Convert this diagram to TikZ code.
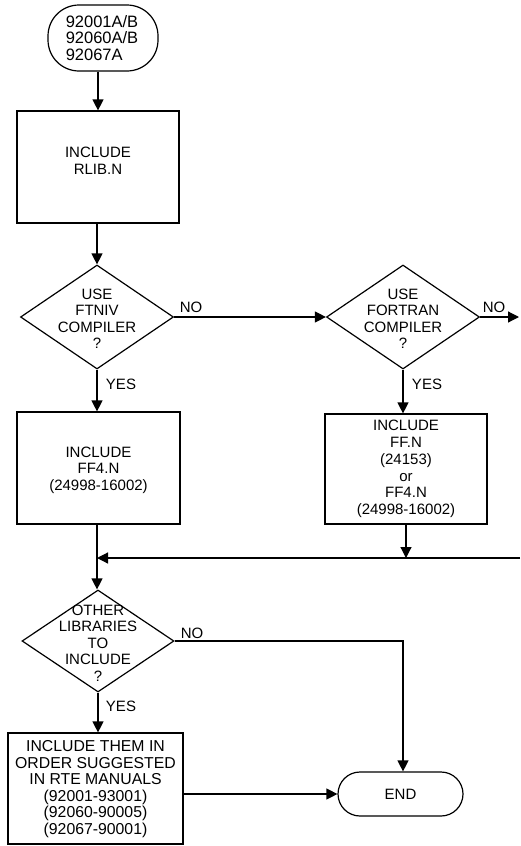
\documentclass[tikz,border=0pt]{standalone}
\usepackage{fontspec}
\setmainfont{Liberation Sans}
\usetikzlibrary{shapes.geometric,arrows.meta}
\begin{document}
\begin{tikzpicture}[x=1pt,y=-1pt,
  line width=1.2pt,
  every node/.style={font=\fontsize{15}{16.5}\selectfont},
  arr/.style={-{Triangle[length=11pt,width=11pt]}},
  boxn/.style={draw,rectangle,inner sep=0pt},
  dia/.style={draw,diamond,inner sep=0pt,minimum width=153pt,minimum height=104pt},
  txt/.style={align=center,inner sep=0pt},
  lbl/.style={inner sep=0pt}]
\useasboundingbox (0,0) rectangle (520,846);
% nodes
\node[draw,rectangle,rounded corners=31pt,minimum width=110pt,minimum height=66pt,inner sep=0pt] (start) at (103,38) {};
\node[align=left,inner sep=0pt,font=\fontsize{16.5}{16.7}\selectfont] (startt) at (102,38) {92001A/B\\92060A/B\\92067A};
\node[boxn,minimum width=162pt,minimum height=112pt] (b1) at (98,167) {};
\node[txt] (b1t) at (98,161) {INCLUDE\\RLIB.N};
\node[dia] (d1) at (97,317) {};
\node[txt] (d1t) at (97,319) {USE\\FTNIV\\COMPILER\\?};
\node[dia] (d2) at (403,317) {};
\node[txt] (d2t) at (403,319) {USE\\FORTRAN\\COMPILER\\?};
\node[boxn,minimum width=163pt,minimum height=112pt] (b2) at (98.5,468) {};
\node[txt] (b2t) at (98.5,470) {INCLUDE\\FF4.N\\(24998-16002)};
\node[boxn,minimum width=162pt,minimum height=110pt] (b3) at (406,469) {};
\node[txt,font=\fontsize{15}{16.8}\selectfont] (b3t) at (406,469) {INCLUDE\\FF.N\\(24153)\\or\\FF4.N\\(24998-16002)};
\node[dia,minimum width=152pt,minimum height=102pt] (d3) at (98,641) {};
\node[txt] (d3t) at (98,643) {OTHER\\LIBRARIES\\TO\\INCLUDE\\?};
\node[boxn,minimum width=175pt,minimum height=111pt] (b4) at (95.5,788.5) {};
\node[txt,font=\fontsize{15.8}{16.5}\selectfont] (b4t) at (95.5,789) {INCLUDE THEM IN\\ORDER SUGGESTED\\IN RTE MANUALS\\(92001-93001)\\(92060-90005)\\(92067-90001)};
\node[draw,rectangle,rounded corners=22pt,minimum width=125pt,minimum height=44pt,inner sep=0pt] (end) at (400.5,794) {END};
% labels
\node[lbl] (no1) at (191,307) {NO};
\node[lbl] (no2) at (494,307) {NO};
\node[lbl] (yes1) at (121,384) {YES};
\node[lbl] (yes2) at (427,384) {YES};
\node[lbl] (no3) at (192,633) {NO};
\node[lbl] (yes3) at (121,706) {YES};
% coordinates
\coordinate (offE) at (519,317);
\coordinate (offW) at (520,558);
\coordinate (jn) at (97,558);
\coordinate (bend) at (403,641);
% connectors
\draw[arr] (b1.north |- start.south) -- (b1.north);
\draw[arr] (d1.north |- b1.south) -- (d1.north);
\draw[arr] (d1.east) -- (d2.west);
\draw[arr] (d2.east) -- (offE);
\draw[arr] (d1.south) -- (b2.north -| d1.south);
\draw[arr] (d2.south) -- (b3.north -| d2.south);
\draw[arr] (jn |- b2.south) -- (jn |- d3.north);
\draw[arr] (b3.south) -- (b3.south |- jn);
\draw[arr] (offW) -- (jn);
\draw[arr] (d3.east) -- (bend) -- (end.north -| bend);
\draw[arr] (d3.south) -- (b4.north -| d3.south);
\draw[arr] (b4.east |- end.west) -- (end.west);
\end{tikzpicture}
\end{document}
